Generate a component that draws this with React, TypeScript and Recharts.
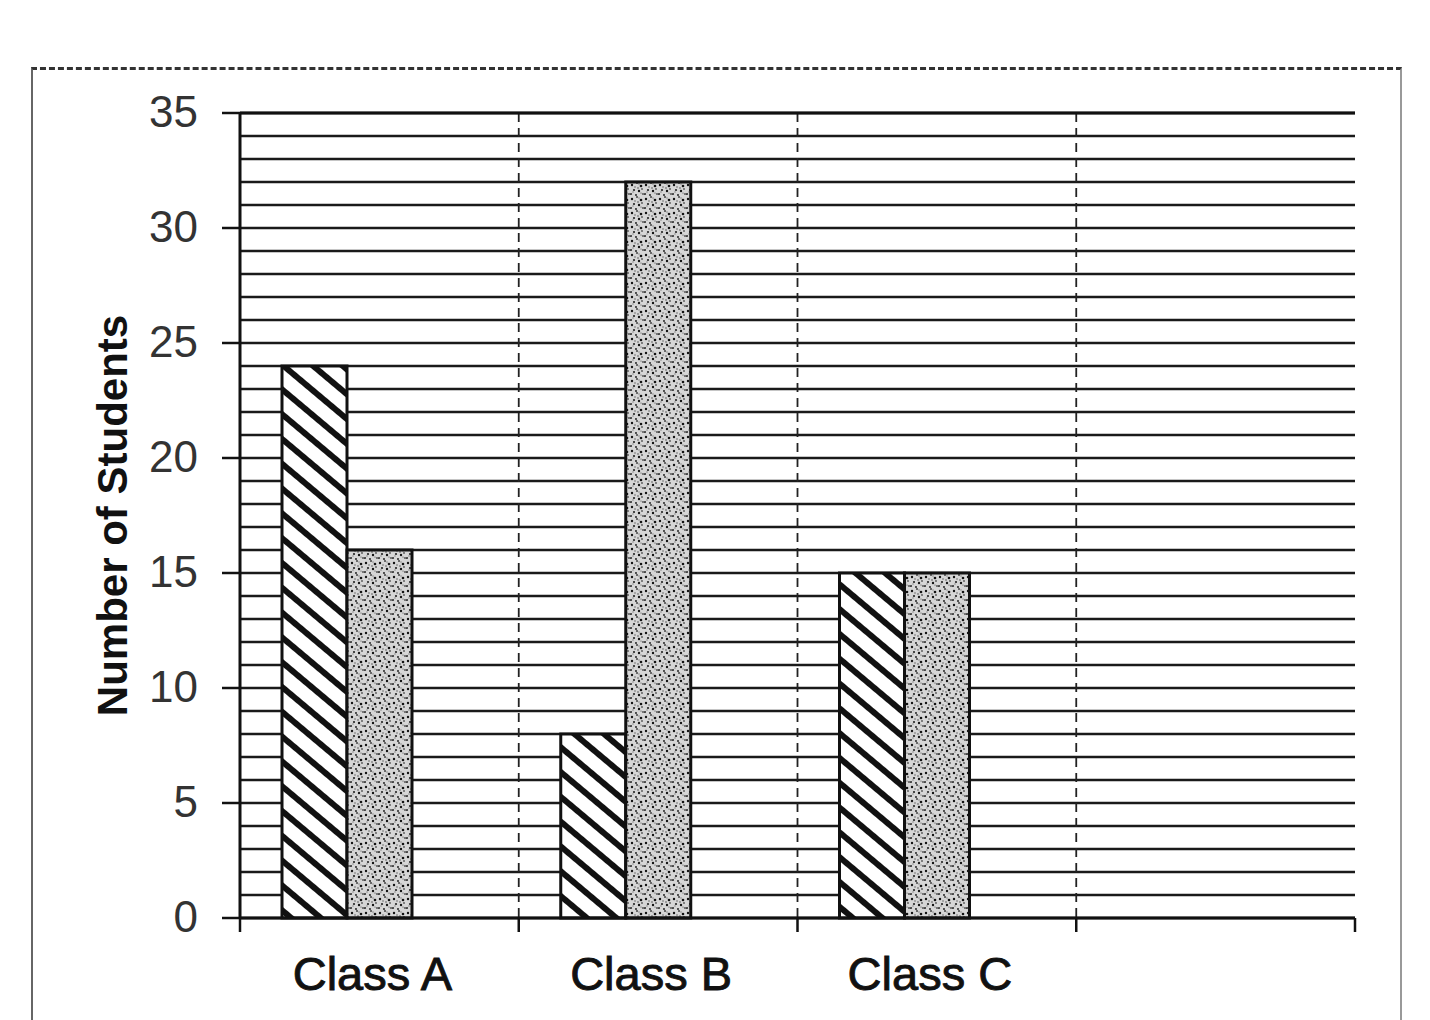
import React from 'react';
import {
  BarChart,
  Bar,
  XAxis,
  YAxis,
  CartesianGrid,
  ReferenceLine
} from 'recharts';

// categories (the fourth slot is empty in the original sheet)
const classes = ['Class A', 'Class B', 'Class C', ''];
const hatchedSeries = [24, 8, 15, null];
const dottedSeries = [16, 32, 15, null];
const emptySeries = [null, null, null, null]; // third series, no values
const yTicks = [
  0, 1, 2, 3, 4, 5, 6, 7, 8, 9, 10, 11, 12, 13, 14, 15, 16, 17,
  18, 19, 20, 21, 22, 23, 24, 25, 26, 27, 28, 29, 30, 31, 32, 33, 34, 35
];
const labelledTicks = [0, 5, 10, 15, 20, 25, 30, 35];

const data = classes.map((name, i) => ({
  name,
  hatched: hatchedSeries[i],
  dotted: dottedSeries[i],
  empty: emptySeries[i]
}));

const W = 1430;
const H = 1020;
const PLOT_LEFT = 240;
const PLOT_RIGHT = 1355;
const PLOT_TOP = 113;
const PLOT_BOTTOM = 918;
const BAND = (PLOT_RIGHT - PLOT_LEFT) / classes.length;
const FONT = '"Liberation Sans", Arial, sans-serif';

const speckles: [number, number, number, string][] = [
  [2, 3, 1.2, '#111'], [7, 1, 1.0, '#444'], [11, 4, 1.3, '#111'],
  [4, 8, 1.1, '#222'], [9, 9, 1.2, '#111'], [13, 12, 1.0, '#555'],
  [1, 12, 1.1, '#333'], [6, 13, 0.9, '#111'], [12, 7, 0.9, '#555'],
  [5, 5, 0.8, '#666'], [9, 2, 0.7, '#777'], [3, 10, 0.7, '#777'],
  [8, 6, 0.7, '#333'], [11, 11, 0.6, '#444']
];

const renderXTick = (props: any) => {
  const { x, payload, index } = props;
  const left = x - BAND / 2;
  return (
    <g>
      <line x1={left} y1={PLOT_BOTTOM} x2={left} y2={PLOT_BOTTOM + 14} stroke="#111" strokeWidth={2.5} />
      {index === classes.length - 1 && (
        <line x1={x + BAND / 2} y1={PLOT_BOTTOM} x2={x + BAND / 2} y2={PLOT_BOTTOM + 14} stroke="#111" strokeWidth={2.5} />
      )}
      {payload.value && (
        <text
          x={x - 7}
          y={990}
          textAnchor="middle"
          fontFamily={FONT}
          fontSize={47}
          fill="#111"
          stroke="#111"
          strokeWidth={0.9}
        >
          {payload.value}
        </text>
      )}
    </g>
  );
};

const renderYTick = (props: any) => {
  const { y, payload } = props;
  if (!labelledTicks.includes(payload.value)) return <g />;
  return (
    <g>
      <line x1={PLOT_LEFT - 18} y1={y} x2={PLOT_LEFT} y2={y} stroke="#111" strokeWidth={2.5} />
      <text x={198} y={y - 2} dy="0.36em" textAnchor="end" fontFamily={FONT} fontSize={44} fill="#333">
        {payload.value}
      </text>
    </g>
  );
};

const YLabel = () => {
  const cy = (PLOT_TOP + PLOT_BOTTOM) / 2;
  return (
    <text
      x={127}
      y={cy}
      transform={`rotate(-90, 127, ${cy})`}
      textAnchor="middle"
      fontFamily={FONT}
      fontSize={42}
      fontWeight="bold"
      fill="#111"
    >
      Number of Students
    </text>
  );
};

const App: React.FC = () => {
  return (
    <div style={{ position: 'absolute', left: 0, top: 0, width: W, height: H, overflow: 'hidden', background: '#fff' }}>
      <div
        style={{
          position: 'absolute',
          left: 31,
          top: 67,
          width: 1367,
          height: 1000,
          borderTop: '3px dashed #333',
          borderLeft: '2px solid #666',
          borderRight: '2px solid #999'
        }}
      />
      <div style={{ position: 'absolute', left: 0, top: 0 }}>
        <BarChart
          width={W}
          height={H}
          data={data}
          margin={{ top: PLOT_TOP, right: W - PLOT_RIGHT, bottom: 12, left: 0 }}
          barGap={0}
          barSize={65}
        >
          <defs>
            <pattern id="hatch" patternUnits="userSpaceOnUse" width="19" height="19" patternTransform="rotate(40)">
              <rect width="19" height="19" fill="#fff" />
              <rect x="0" y="0" width="19" height="6" fill="#111" />
            </pattern>
            <pattern id="speckle" patternUnits="userSpaceOnUse" width="14" height="14">
              <rect width="14" height="14" fill="#d6d6d6" />
              {speckles.map(([cx, cy, r, c], i) => (
                <circle key={i} cx={cx} cy={cy} r={r} fill={c} />
              ))}
            </pattern>
          </defs>
          <CartesianGrid vertical={false} stroke="#1a1a1a" strokeWidth={2.5} />
          <CartesianGrid
            horizontal={false}
            stroke="#222"
            strokeWidth={1.8}
            strokeDasharray="9 6"
            verticalCoordinatesGenerator={({ offset }: any) =>
              [1, 2, 3].map((i) => offset.left + (i * offset.width) / classes.length)
            }
          />
          <XAxis
            dataKey="name"
            height={90}
            interval={0}
            tickLine={false}
            tickSize={0}
            axisLine={{ stroke: '#111', strokeWidth: 3 }}
            tick={renderXTick}
          />
          <YAxis
            width={PLOT_LEFT}
            domain={[0, 35]}
            ticks={yTicks}
            interval={0}
            tickLine={false}
            tickSize={0}
            axisLine={{ stroke: '#111', strokeWidth: 3 }}
            tick={renderYTick}
            label={{ content: <YLabel /> }}
          />
          <YAxis
            yAxisId="right"
            orientation="right"
            width={0}
            domain={[0, 35]}
            tick={false}
            tickLine={false}
            axisLine={{ stroke: '#111', strokeWidth: 3 }}
          />
          <ReferenceLine y={35} stroke="#111" strokeWidth={3} />
          <Bar dataKey="hatched" fill="url(#hatch)" stroke="#111" strokeWidth={3} isAnimationActive={false} />
          <Bar dataKey="dotted" fill="url(#speckle)" stroke="#111" strokeWidth={3} isAnimationActive={false} />
          <Bar dataKey="empty" fill="none" isAnimationActive={false} />
        </BarChart>
      </div>
    </div>
  );
};

export default App;
